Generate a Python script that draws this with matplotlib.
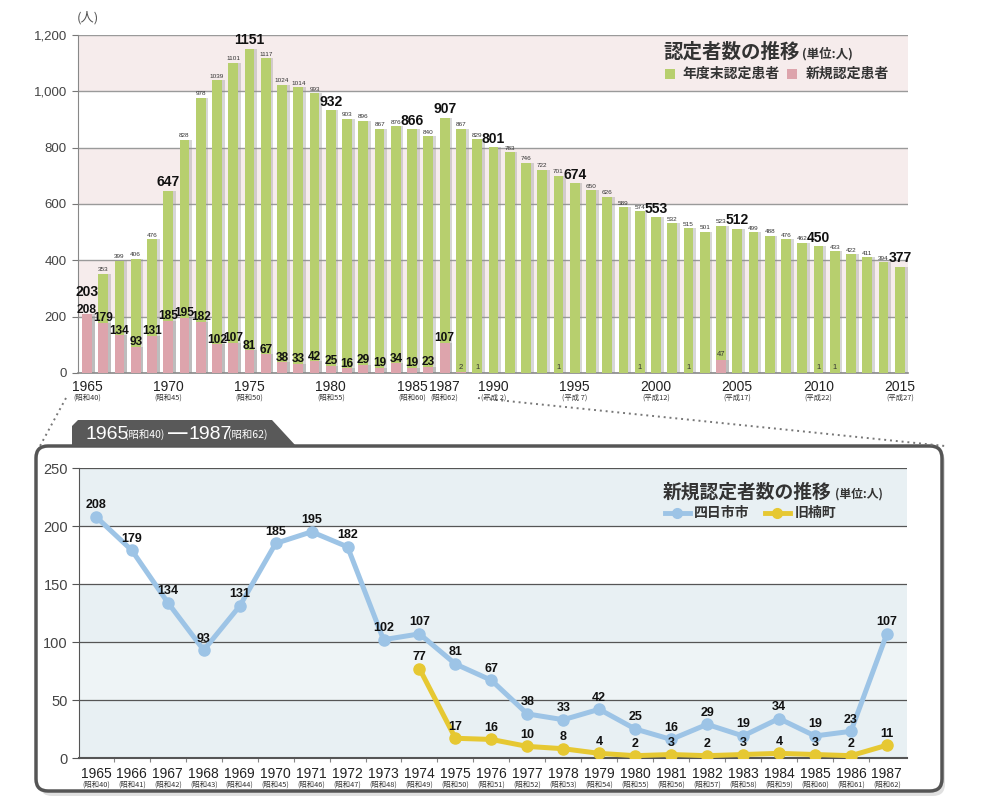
import matplotlib
matplotlib.use('Agg')
import matplotlib.pyplot as plt
import numpy as np
from matplotlib.patches import FancyBboxPatch, Polygon

plt.rcParams['font.family'] = ['Noto Sans CJK JP', 'DejaVu Sans']
NUM = ['Liberation Sans Narrow', 'Liberation Sans', 'DejaVu Sans']
SANS = ['Liberation Sans', 'DejaVu Sans']

# ---------------- data ----------------
years = list(range(1965, 2016))
total_patients = [203, 353, 399, 406, 476, 647, 828, 978, 1039, 1101, 1151, 1117, 1024, 1014, 993,
                  932, 903, 896, 867, 876, 866, 840, 907, 867, 829, 801, 783, 746, 722, 701, 674,
                  650, 626, 589, 574, 553, 532, 515, 501, 523, 512, 499, 488, 476, 462, 450, 433,
                  422, 411, 394, 377]
new_patients = [208, 179, 134, 93, 131, 185, 195, 182, 102, 107, 81, 67, 38, 33, 42, 25, 16, 29,
                19, 34, 19, 23, 107, 2, 1, 0, 0, 0, 0, 1, 0, 0, 0, 0, 1, 0, 0, 1, 0, 47, 0, 0, 0,
                0, 0, 1, 1, 0, 0, 0, 0]
big_label_years = [1965, 1970, 1975, 1980, 1985, 1987, 1990, 1995, 2000, 2005, 2010, 2015]
top_tick_years = [1965, 1970, 1975, 1980, 1985, 1987, 1990, 1995, 2000, 2005, 2010, 2015]
top_tick_era = ['(昭和40)', '(昭和45)', '(昭和50)', '(昭和55)', '(昭和60)', '(昭和62)',
                '(平成 2)', '(平成 7)', '(平成12)', '(平成17)', '(平成22)', '(平成27)']

sub_years = list(range(1965, 1988))
sub_era = ['(昭和%d)' % n for n in range(40, 63)]
yokkaichi = [208, 179, 134, 93, 131, 185, 195, 182, 102, 107, 81, 67, 38, 33, 42, 25, 16, 29,
             19, 34, 19, 23, 107]
kusu = [np.nan] * 9 + [77, 17, 16, 10, 8, 4, 2, 3, 2, 3, 4, 3, 2, 11]

GREEN = '#b7cf6e'
PINK = '#dda4ac'
BLUE = '#9dc4e6'
YELLOW = '#e6c832'
DARK = '#555555'

W, H = 982, 809
fig = plt.figure(figsize=(W / 100, H / 100), dpi=100)

def fax(l, t, r, b):
    return [l / W, 1 - b / H, (r - l) / W, (b - t) / H]

def pixel_axes(z):
    a = fig.add_axes([0, 0, 1, 1], zorder=z)
    a.set_xlim(0, W)
    a.set_ylim(H, 0)
    a.axis('off')
    a.patch.set_alpha(0)
    return a

bg = pixel_axes(0)
fg = pixel_axes(5)

# box shadow + box
bg.add_patch(FancyBboxPatch((40, 450), 905, 346, boxstyle='round,pad=0,rounding_size=12',
                            fc='#cccccc', ec='none', alpha=0.6))
bg.add_patch(FancyBboxPatch((36, 446), 906, 345, boxstyle='round,pad=0,rounding_size=12',
                            fc='white', ec=DARK, lw=2.5))
# tab
bg.add_patch(Polygon([(72, 446), (72, 426), (78, 420), (272, 420), (296, 446)],
                     closed=True, fc='#595959', ec='none'))
bg.text(86, 434, '1965', color='white', fontsize=14, va='center', family=SANS)
bg.text(125, 435, '(昭和40)', color='white', fontsize=7.5, va='center')
bg.text(168, 433, '—', color='white', fontsize=14, va='center', family=SANS, fontweight='bold')
bg.text(189, 434, '1987', color='white', fontsize=14, va='center', family=SANS)
bg.text(228, 435, '(昭和62)', color='white', fontsize=7.5, va='center')

# dotted connectors
bg.plot([66, 40], [398, 446], color='#777777', lw=1.4, ls=(0, (1, 2)))
bg.plot([478, 945], [398, 446], color='#777777', lw=1.4, ls=(0, (1, 2)))

# ---------------- top chart ----------------
ax = fig.add_axes(fax(78, 35, 908, 373), zorder=1)
ax.set_facecolor('none')
x = np.arange(len(years))
for lo in range(200, 1200, 400):
    ax.axhspan(lo, lo + 200, color='#f6ecec', zorder=0, lw=0)
for yv in range(200, 1201, 200):
    ax.axhline(yv, color='#9a9a9a', lw=1.0, zorder=1)

bw = 0.6
ax.bar(x + 0.17, total_patients, width=bw, color='#8f8f8f', alpha=0.35, zorder=2, lw=0)
ax.bar(x, total_patients, width=bw, color=GREEN, zorder=3, lw=0)
npv = np.array(new_patients, dtype=float)
mask = npv > 0
ax.bar(x[mask] + 0.17, npv[mask], width=bw, color='#8f8f8f', alpha=0.35, zorder=4, lw=0)
ax.bar(x[mask], npv[mask], width=bw, color=PINK, zorder=5, lw=0)

for i, (yr, tv, nv) in enumerate(zip(years, total_patients, new_patients)):
    big = yr in big_label_years
    base = tv
    off = 1
    if nv >= tv:
        base = nv
        off = 11
    if big:
        ax.annotate(str(tv), (i, base), xytext=(0, off), textcoords='offset points',
                    ha='center', va='bottom', fontsize=10, fontweight='bold',
                    family=NUM, color='#111111', zorder=7)
    else:
        ax.annotate(str(tv), (i, base), xytext=(0, 1), textcoords='offset points',
                    ha='center', va='bottom', fontsize=4.6, family=NUM,
                    color='#333333', zorder=7)
    if nv > 0:
        if yr <= 1987:
            ax.annotate(str(nv), (i, nv), xytext=(0, -1), textcoords='offset points',
                        ha='center', va='bottom', fontsize=8.6, fontweight='bold',
                        family=NUM, color='#111111', zorder=7)
        else:
            ax.annotate(str(nv), (i, nv), xytext=(0, 1), textcoords='offset points',
                        ha='center', va='bottom', fontsize=5.5, family=NUM,
                        color='#333333', zorder=7)

ax.set_xlim(-0.55, len(years) - 0.5)
ax.set_ylim(0, 1200)
ax.set_yticks(range(0, 1201, 200))
ax.set_yticklabels(['{:,}'.format(v) for v in range(0, 1201, 200)], family=SANS,
                   fontsize=9.5, color='#444444')
ax.tick_params(axis='y', length=4, color='#777777', pad=4)
ax.set_xticks([])
for s in ['top', 'right']:
    ax.spines[s].set_visible(False)
ax.spines['left'].set_color('#888888')
ax.spines['bottom'].set_color('#888888')
ax.spines['bottom'].set_linewidth(1.2)
for yr, era in zip(top_tick_years, top_tick_era):
    i = years.index(yr)
    ax.text(i, -0.022, str(yr), transform=ax.get_xaxis_transform(), ha='center', va='top',
            fontsize=10, family=SANS, color='#222222')
    ax.text(i, -0.062, era, transform=ax.get_xaxis_transform(), ha='center', va='top',
            fontsize=5.3, color='#333333')
bg.text(88, 18, '(人)', fontsize=9.5, color='#555555', ha='center', va='center')

# top legend
fg.text(663, 52, '認定者数の推移', fontsize=14, fontweight='bold', color='#333333', va='center')
fg.text(802, 54, '(単位:人)', fontsize=9, fontweight='bold', color='#333333', va='center')
fg.add_patch(plt.Rectangle((665, 69), 10, 10, fc=GREEN, ec='none'))
fg.text(682, 74, '年度末認定患者', fontsize=10, fontweight='bold', color='#333333', va='center')
fg.add_patch(plt.Rectangle((787, 69), 10, 10, fc=PINK, ec='none'))
fg.text(806, 74, '新規認定患者', fontsize=10, fontweight='bold', color='#333333', va='center')

# ---------------- bottom chart ----------------
bx = fig.add_axes(fax(79, 468, 907, 758), zorder=1)
bx.set_facecolor('none')
xs = np.arange(len(sub_years))
bands = [(0, 50, '#e8f0f3'), (50, 100, '#eef4f6'), (100, 150, '#e8f0f3'),
         (150, 200, '#ffffff'), (200, 250, '#e8f0f3')]
for lo, hi, c in bands:
    bx.axhspan(lo, hi, color=c, zorder=0, lw=0)
for yv in range(50, 251, 50):
    bx.axhline(yv, color='#555555', lw=0.9, zorder=1)

bx.plot(xs, yokkaichi, color=BLUE, lw=3.6, marker='o', ms=8, zorder=4,
        solid_capstyle='round', solid_joinstyle='round')
bx.plot(xs, kusu, color=YELLOW, lw=3.6, marker='o', ms=8, zorder=3,
        solid_capstyle='round', solid_joinstyle='round')
for i, v in enumerate(yokkaichi):
    bx.annotate(str(v), (i, v), xytext=(0, 4), textcoords='offset points', ha='center',
                va='bottom', fontsize=9, fontweight='bold', family=NUM, color='#111111', zorder=6)
for i, v in enumerate(kusu):
    if not np.isnan(v):
        bx.annotate(str(int(v)), (i, v), xytext=(0, 4), textcoords='offset points', ha='center',
                    va='bottom', fontsize=9, fontweight='bold', family=NUM, color='#111111',
                    zorder=6)

bx.set_xlim(-0.47, len(sub_years) - 1 + 0.56)
bx.set_ylim(0, 250)
bx.set_yticks(range(0, 251, 50))
bx.set_yticklabels([str(v) for v in range(0, 251, 50)], family=SANS, fontsize=10.5, color='#444444')
bx.tick_params(axis='y', length=5, color='#555555', pad=3)
bx.set_xticks(np.arange(len(sub_years) - 1) + 0.5)
bx.set_xticklabels([])
bx.tick_params(axis='x', which='major', length=3, color='#888888')
for s in ['top', 'right']:
    bx.spines[s].set_visible(False)
bx.spines['left'].set_color('#555555')
bx.spines['bottom'].set_color('#555555')
bx.spines['bottom'].set_linewidth(1.5)
for i, (yr, era) in enumerate(zip(sub_years, sub_era)):
    bx.text(i, -0.03, str(yr), transform=bx.get_xaxis_transform(), ha='center', va='top',
            fontsize=10, family=SANS, color='#222222')
    bx.text(i, -0.078, era, transform=bx.get_xaxis_transform(), ha='center', va='top',
            fontsize=5.3, color='#333333')

# bottom legend
fg.text(663, 492, '新規認定者数の推移', fontsize=13.5, fontweight='bold', color='#333333', va='center')
fg.text(835, 494, '(単位:人)', fontsize=8.5, fontweight='bold', color='#333333', va='center')
fg.plot([665, 690], [513, 513], color=BLUE, lw=3.5)
fg.plot([677.5], [513], 'o', color=BLUE, ms=7)
fg.text(694, 513, '四日市市', fontsize=10, fontweight='bold', color='#333333', va='center')
fg.plot([765, 790], [513, 513], color=YELLOW, lw=3.5)
fg.plot([777.5], [513], 'o', color=YELLOW, ms=7)
fg.text(795, 513, '旧楠町', fontsize=10, fontweight='bold', color='#333333', va='center')

fig.savefig('out.png', dpi=100)
